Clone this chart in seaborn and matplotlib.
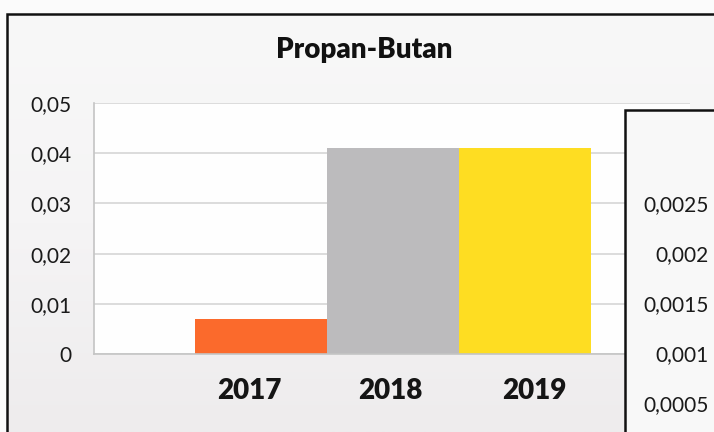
import matplotlib
matplotlib.use("Agg")
import matplotlib.pyplot as plt
from matplotlib.patches import Rectangle
from matplotlib.ticker import FuncFormatter, FixedLocator
from matplotlib.colors import LinearSegmentedColormap
import numpy as np
import seaborn as sns

# Propan-Butan values per year
years = ["2017", "2018", "2019"]
values = [0.0069, 0.041, 0.041]
bar_colors = ["#fb6a2c", "#bcbbbd", "#fedd22"]
main_ticks = [0, 0.01, 0.02, 0.03, 0.04, 0.05]

# neighbouring chart (partly visible on the right)
side_ticks = [0.0005, 0.001, 0.0015, 0.002, 0.0025]

sns.set_theme(style="white")
plt.rcParams["font.family"] = ["Lato", "DejaVu Sans"]

W, H = 714, 432
fig = plt.figure(figsize=(W / 100, H / 100), dpi=100)
fig.patch.set_facecolor("#fbfbfb")


def fx(px):
    return px / W


def fy(py):
    return 1 - py / H


# chart frame with a soft vertical shading
bg = fig.add_axes([0, 0, 1, 1], zorder=-5)
bg.axis("off")
grad = np.linspace(0, 1, 256)[:, None]
cmap = LinearSegmentedColormap.from_list("paper", ["#f8f8f8", "#f5f4f5", "#eeeced"])
bg.imshow(grad, cmap=cmap, aspect="auto", extent=[fx(7), 1.0, 0.0, fy(14)],
          transform=fig.transFigure)
bg.set_xlim(0, 1)
bg.set_ylim(0, 1)
fig.add_artist(Rectangle((fx(7), -0.1), 1.0, fy(14) + 0.1, transform=fig.transFigure,
                         facecolor="none", edgecolor="#111111", lw=1.8, zorder=1))

# main bar chart
ax = fig.add_axes([fx(94), fy(354), (690 - 94) / W, (354 - 103) / H])
ax.set_facecolor("#fefefe")
sns.barplot(x=years, y=values, hue=years, palette=bar_colors, width=1.0,
            saturation=1, legend=False, ax=ax, edgecolor="none")
ax.set_xlim(-1.265, 3.25)
ax.set_ylim(0, 0.05)
ax.yaxis.set_major_locator(FixedLocator(main_ticks))
ax.yaxis.set_major_formatter(FuncFormatter(
    lambda v, p: "0" if abs(v) < 1e-12 else f"{v:.2f}".replace(".", ",")))
ax.yaxis.grid(True, color="#d9d9d9", lw=1.3)
ax.set_axisbelow(True)
for s in ("top", "right"):
    ax.spines[s].set_visible(False)
for s in ("left", "bottom"):
    ax.spines[s].set_color("#c4c4c4")
    ax.spines[s].set_linewidth(1.2)
ax.tick_params(axis="y", length=5, width=1, color="#c4c4c4", pad=11,
               labelsize=15, labelcolor="#1a1a1a")
# category labels sit slightly spread out under the bars
label_shift = [-0.09, -0.02, 0.07]
ax.set_xticks([i + d for i, d in enumerate(label_shift)], labels=years)
ax.tick_params(axis="x", length=0, pad=17, labelsize=20, labelcolor="#151515")
for t in ax.get_xticklabels():
    t.set_fontweight("heavy")
ax.set_xlabel("")
ax.set_ylabel("")

fig.text(fx(364), fy(58), "Propan-Butan", ha="center", va="baseline",
         fontsize=20, fontweight="heavy", color="#111111")

# neighbouring chart frame overlapping on the right
fig.add_artist(Rectangle((fx(625), -0.1), 1.0, fy(110) + 0.1, transform=fig.transFigure,
                         facecolor="#f8f8f8", edgecolor="#111111", lw=1.8, zorder=5))
ax2 = fig.add_axes([fx(716), fy(453), 0.3, (453 - 203) / H], zorder=6)
ax2.set_facecolor("none")
ax2.set_ylim(0, 0.0025)
ax2.set_xlim(0, 1)
ax2.yaxis.set_major_locator(FixedLocator(side_ticks))
ax2.yaxis.set_major_formatter(FuncFormatter(lambda v, p: f"{v:g}".replace(".", ",")))
ax2.set_xticks([])
for s in ax2.spines.values():
    s.set_visible(False)
ax2.tick_params(axis="y", length=0, pad=5, labelsize=15, labelcolor="#1a1a1a")

fig.savefig("out.png", dpi=100, facecolor=fig.get_facecolor())
